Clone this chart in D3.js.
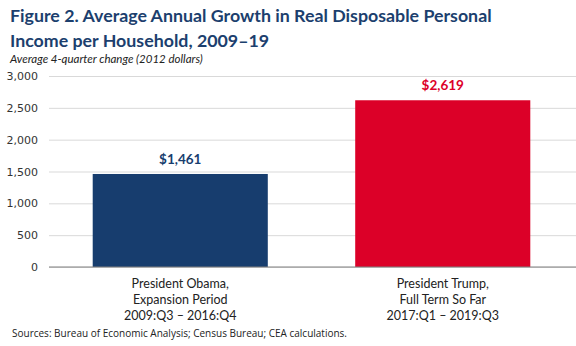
<!DOCTYPE html>
<html>
<head>
    <style>
        body { margin: 0; background: #fff; }
        .title { font: bold 17.8px "Lato", sans-serif; fill: #1c3f6e; }
        .subtitle { font: italic 11.5px "Lato", sans-serif; fill: #222; }
        .tick text { font: 11px "DejaVu Sans", sans-serif; fill: #333; }
        .cat { font: 12.5px "Lato", sans-serif; fill: #222; }
        .source { font: 10px "Open Sans", sans-serif; fill: #222; }
        .value { font: bold 13.5px "Lato", sans-serif; }
    </style>
</head>
<body>
    <script src="https://d3js.org/d3.v7.min.js"></script>
    <script>
        // Chart data
        var categories = ["Obama", "Trump"];
        var values = [1461, 2619];
        var catLabels = [
            ["President Obama,", "Expansion Period", "2009:Q3 \u2013 2016:Q4"],
            ["President Trump,", "Full Term So Far", "2017:Q1 \u2013 2019:Q3"]
        ];
        var colors = ["#173d6e", "#dc0028"];
        var yTicks = [0, 500, 1000, 1500, 2000, 2500, 3000];

        var width = 576, height = 346;
        var margin = { top: 76, right: 2, bottom: 79, left: 49 };

        var svg = d3.select("body").append("svg")
            .attr("width", width)
            .attr("height", height);

        svg.append("text").attr("class", "title").attr("x", 10).attr("y", 22)
            .text("Figure 2. Average Annual Growth in Real Disposable Personal");
        svg.append("text").attr("class", "title").attr("x", 10).attr("y", 47)
            .text("Income per Household, 2009\u201319");
        svg.append("text").attr("class", "subtitle").attr("x", 10).attr("y", 63)
            .text("Average 4-quarter change (2012 dollars)");

        var x = d3.scaleBand()
            .domain(categories)
            .range([margin.left, width - margin.right])
            .paddingInner(0.333)
            .paddingOuter(0.1665);

        var y = d3.scaleLinear()
            .domain([0, 3000])
            .range([height - margin.bottom, margin.top]);

        // Gridlines and y labels
        var yAxis = svg.append("g")
            .attr("transform", "translate(" + margin.left + ",0)")
            .call(d3.axisLeft(y).tickValues(yTicks)
                .tickFormat(d3.format(","))
                .tickSize(-(width - margin.left))
                .tickPadding(11));
        yAxis.select(".domain").remove();
        yAxis.selectAll(".tick line").attr("stroke", "#d9d9d9");

        // Bars
        svg.selectAll(".bar")
            .data(values)
            .enter().append("rect")
            .attr("class", "bar")
            .attr("x", function (d, i) { return x(categories[i]); })
            .attr("width", x.bandwidth())
            .attr("y", function (d) { return y(d); })
            .attr("height", function (d) { return y(0) - y(d); })
            .attr("fill", function (d, i) { return colors[i]; });

        // Baseline
        svg.append("line")
            .attr("x1", margin.left).attr("x2", width)
            .attr("y1", y(0)).attr("y2", y(0))
            .attr("stroke", "#808080").attr("stroke-width", 1.2);

        // Value labels
        svg.selectAll(".value")
            .data(values)
            .enter().append("text")
            .attr("class", "value")
            .attr("x", function (d, i) { return x(categories[i]) + x.bandwidth() / 2; })
            .attr("y", function (d) { return y(d) - 10; })
            .attr("text-anchor", "middle")
            .attr("fill", function (d, i) { return colors[i]; })
            .text(function (d) { return "$" + d3.format(",")(d); });

        // Category labels
        var cat = svg.selectAll(".cat")
            .data(catLabels)
            .enter().append("text")
            .attr("class", "cat")
            .attr("text-anchor", "middle")
            .attr("transform", function (d, i) {
                return "translate(" + (x(categories[i]) + x.bandwidth() / 2) + "," + (y(0) + 21) + ")";
            });
        cat.selectAll("tspan")
            .data(function (d) { return d; })
            .enter().append("tspan")
            .attr("x", 0)
            .attr("dy", function (d, i) { return i ? 16 : 0; })
            .text(function (d) { return d; });

        svg.append("text").attr("class", "source").attr("x", 12).attr("y", 337)
            .text("Sources: Bureau of Economic Analysis; Census Bureau; CEA calculations.");
    </script>
</body>
</html>
